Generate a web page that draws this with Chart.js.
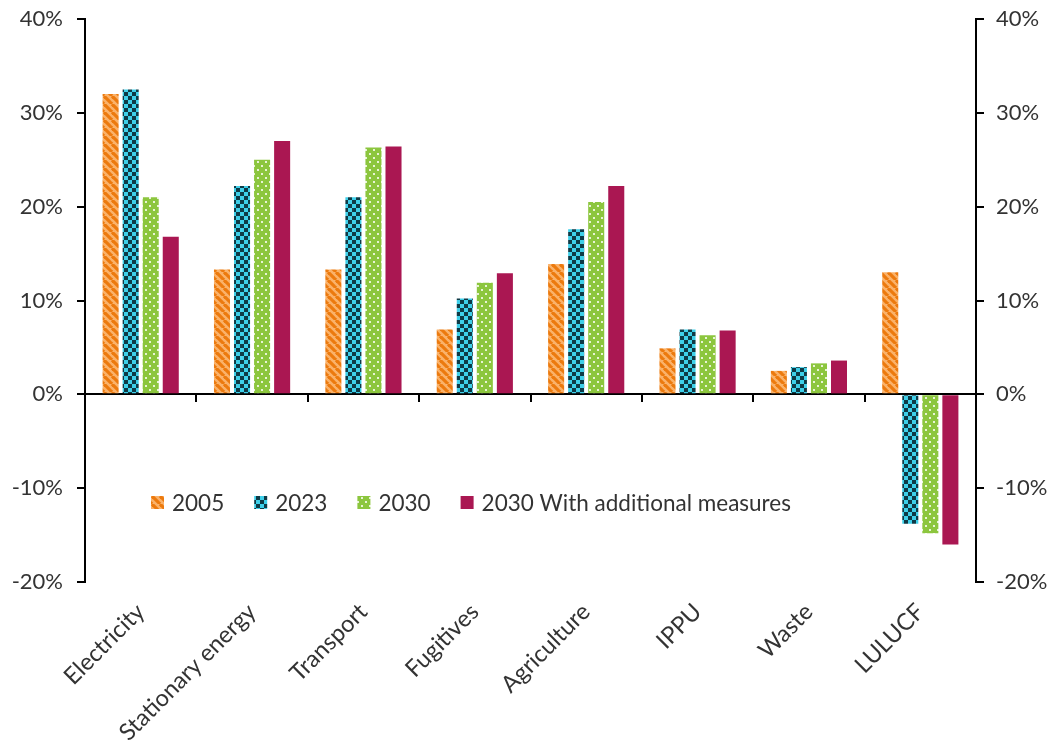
<!DOCTYPE html>
<html>
<head>
<meta charset="utf-8">
<script src="https://cdn.jsdelivr.net/npm/chart.js@4.4.1/dist/chart.umd.min.js"></script>
<style>
  html, body { margin: 0; padding: 0; background: #ffffff; }
  #wrap { width: 1048px; height: 745px; }
</style>
</head>
<body>
<div id="wrap"><canvas id="c" width="1048" height="745"></canvas></div>
<script>
// ---- Data ----
const categories = ['Electricity', 'Stationary energy', 'Transport', 'Fugitives', 'Agriculture', 'IPPU', 'Waste', 'LULUCF'];
const seriesNames = ['2005', '2023', '2030', '2030 With additional measures'];
const values2005 = [32.0, 13.3, 13.3, 6.9, 13.9, 4.9, 2.5, 13.0];
const values2023 = [32.5, 22.2, 21.0, 10.2, 17.6, 6.9, 2.9, -13.8];
const values2030 = [21.0, 25.0, 26.3, 11.9, 20.5, 6.3, 3.3, -14.8];
const values2030WAM = [16.8, 27.0, 26.4, 12.9, 22.2, 6.8, 3.6, -16.0];
const yTickValues = [-20, -10, 0, 10, 20, 30, 40];

// ---- Styles ----
const FONT = 'Lato, "Open Sans", sans-serif';
const TEXT = '#333333';

function makeTile(size, draw) {
  const c = document.createElement('canvas');
  c.width = size; c.height = size;
  const g = c.getContext('2d');
  draw(g, size);
  return document.getElementById('c').getContext('2d').createPattern(c, 'repeat');
}
const stripePat = makeTile(8, (g, s) => {
  g.fillStyle = '#FAB26A'; g.fillRect(0, 0, s, s);
  g.strokeStyle = '#EC7A0E'; g.lineWidth = 3.2;
  for (const k of [-8, 0, 8]) { g.beginPath(); g.moveTo(k, 0); g.lineTo(k + s, s); g.stroke(); }
});
const checkPat = makeTile(8, (g, s) => {
  g.fillStyle = '#3ECFE9'; g.fillRect(0, 0, s, s);
  g.fillStyle = '#0E3A46'; g.fillRect(0, 0, 4, 4); g.fillRect(4, 4, 4, 4);
});
const dotPat = makeTile(8, (g, s) => {
  g.fillStyle = '#8CC63E'; g.fillRect(0, 0, s, s);
  g.fillStyle = '#E8F4D6'; g.fillRect(1, 1, 2, 2); g.fillRect(5, 5, 2, 2);
});
const solidCol = '#AA1752';
const fills = [stripePat, checkPat, dotPat, solidCol];

const legendPlugin = {
  id: 'insideLegend',
  afterDraw(chart) {
    const ctx = chart.ctx;
    ctx.save();
    ctx.font = '22.5px ' + FONT;
    ctx.textBaseline = 'middle';
    ctx.textAlign = 'left';
    let x = 151; const yc = 503;
    chart.data.datasets.forEach((ds) => {
      ctx.fillStyle = ds.backgroundColor;
      ctx.fillRect(x, yc - 7, 13, 13);
      x += 13 + 8;
      ctx.fillStyle = TEXT;
      ctx.fillText(ds.label, x, yc + 1);
      x += ctx.measureText(ds.label).width + 30;
    });
    ctx.restore();
  }
};

const seriesValues = [values2005, values2023, values2030, values2030WAM];
const datasets = seriesNames.map((n, i) => ({
  label: n,
  data: seriesValues[i],
  backgroundColor: fills[i],
  borderWidth: 0,
  xAxisID: 'x',
  yAxisID: 'y',
  categoryPercentage: 0.72,
  barPercentage: 0.8
}));

const yTicksCfg = (pad) => ({
  color: TEXT,
  font: { family: FONT, size: 22 },
  padding: pad,
  stepSize: 10,
  callback: (v) => v + '%'
});

const fixY = (w) => (s) => { s.width = w; s.paddingTop = 0; s.paddingBottom = 0; };

new Chart(document.getElementById('c'), {
  type: 'bar',
  data: { labels: categories, datasets },
  plugins: [legendPlugin],
  options: {
    responsive: false,
    animation: false,
    devicePixelRatio: 1,
    layout: { padding: { top: 19, left: 0, right: 0, bottom: 0 } },
    plugins: { legend: { display: false }, tooltip: { enabled: false } },
    scales: {
      x: {
        type: 'category',
        position: { y: 0 },
        offset: true,
        grid: { offset: true, drawOnChartArea: false, drawTicks: true, tickLength: 7, color: '#000', lineWidth: 2 },
        border: { display: true, color: '#000', width: 2 },
        ticks: { display: false }
      },
      xl: {
        type: 'category',
        labels: categories,
        position: 'bottom',
        offset: true,
        grid: { display: false, drawTicks: false },
        border: { display: false },
        ticks: {
          color: TEXT,
          font: { family: FONT, size: 23.5 },
          minRotation: 45, maxRotation: 45,
          padding: 16,
          autoSkip: false
        },
        afterFit: (s) => { s.height = 163; s.paddingLeft = 0; s.paddingRight = 0; }
      },
      y: {
        position: 'left',
        min: -20, max: 40,
        afterBuildTicks: (s) => { s.ticks = yTickValues.map(v => ({ value: v })); },
        grid: { drawOnChartArea: false, drawTicks: true, tickLength: 8, color: '#000', lineWidth: 2 },
        border: { display: true, color: '#000', width: 2 },
        ticks: yTicksCfg(14),
        afterFit: fixY(85)
      },
      y2: {
        position: 'right',
        min: -20, max: 40,
        afterBuildTicks: (s) => { s.ticks = yTickValues.map(v => ({ value: v })); },
        grid: { drawOnChartArea: false, drawTicks: true, tickLength: 8, color: '#000', lineWidth: 2 },
        border: { display: true, color: '#000', width: 2 },
        ticks: yTicksCfg(12),
        afterFit: fixY(72)
      }
    }
  }
});
</script>
</body>
</html>
